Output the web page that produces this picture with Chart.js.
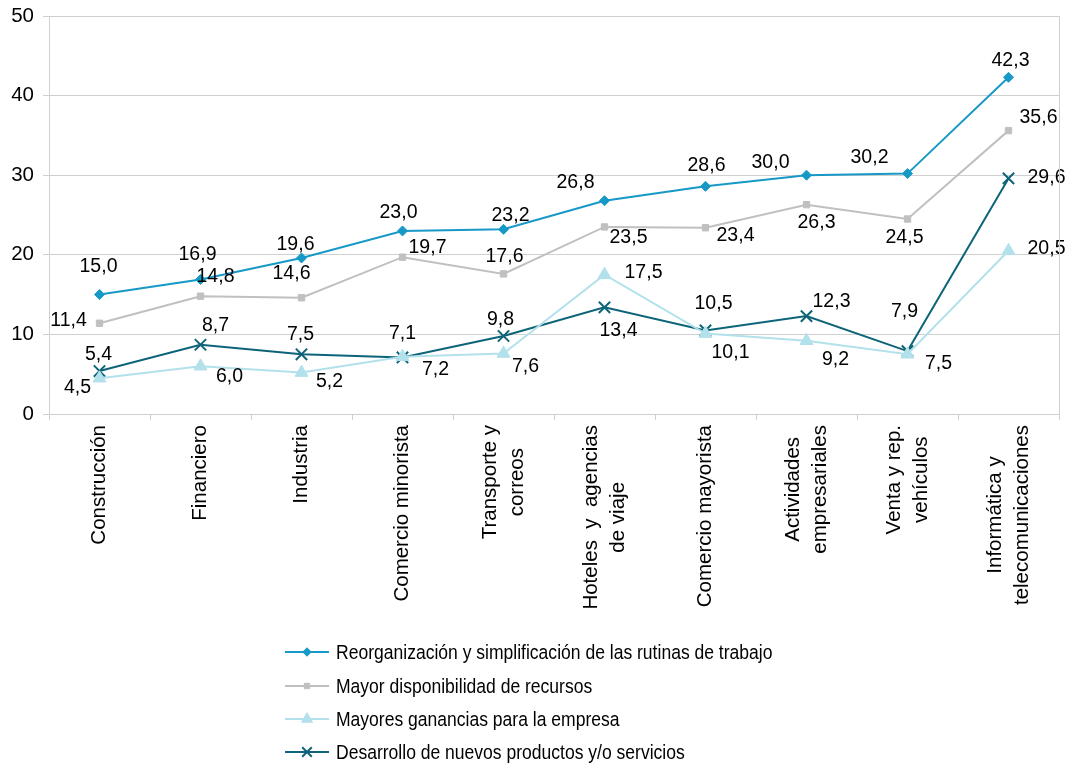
<!DOCTYPE html>
<html>
<head>
<meta charset="utf-8">
<script src="https://cdn.jsdelivr.net/npm/chart.js@4/dist/chart.umd.min.js"></script>
<style>
  html, body { margin: 0; padding: 0; background: #fff; }
  #wrap { width: 1072px; height: 764px; position: relative; }
</style>
</head>
<body>
<div id="wrap"><canvas id="myChart"></canvas></div>
<script>
// Sectores (eje X)
const categories = [
    ['Construcción'],
    ['Financiero'],
    ['Industria'],
    ['Comercio minorista'],
    ['Transporte y', 'correos'],
    ['Hoteles  y  agencias', 'de viaje'],
    ['Comercio mayorista'],
    ['Actividades', 'empresariales'],
    ['Venta y rep.', 'vehículos'],
    ['Informática y', 'telecomunicaciones']
];

const seriesNames = [
    'Reorganización y simplificación de las rutinas de trabajo',
    'Mayor disponibilidad de recursos',
    'Mayores ganancias para la empresa',
    'Desarrollo de nuevos productos y/o servicios'
];

const reorganizacion = [15.0, 16.9, 19.6, 23.0, 23.2, 26.8, 28.6, 30.0, 30.2, 42.3];
const recursos = [11.4, 14.8, 14.6, 19.7, 17.6, 23.5, 23.4, 26.3, 24.5, 35.6];
const ganancias = [4.5, 6.0, 5.2, 7.2, 7.6, 17.5, 10.1, 9.2, 7.5, 20.5];
const desarrollo = [5.4, 8.7, 7.5, 7.1, 9.8, 13.4, 10.5, 12.3, 7.9, 29.6];

const yTicks = [0, 10, 20, 30, 40, 50];

// décalage des étiquettes par rapport au point [dx, dy]
const labelOffsets = [
    [[-1,-28],[-3,-25],[-6,-13],[-4,-18],[7,-14],[-29,-18],[1,-21],[-36,-13],[-38,-16],[2,-17]],
    [[-31,-3],[15,-20],[-10,-24],[25,-10],[1,-17],[24,11],[30,8],[10,18],[-3,19],[30,-13]],
    [[-22,9],[29,10],[28,9],[33,13],[22,13],[39,-2],[25,19],[29,19],[31,9],[38,-2]],
    [[-1,-16],[15,-19],[-1,-20],[0,-24],[-3,-16],[14,23],[8,-27],[25,-14],[-3,-39],[38,-1]]
];

const FONT = '"Liberation Sans", Arial, sans-serif';

const styles = [
    { color: '#1699c6', pointStyle: 'rectRot', radius: 5, borderWidth: 1 },
    { color: '#c0c0c0', pointStyle: 'rect', radius: 4.5, borderWidth: 1 },
    { color: '#b3e1eb', pointStyle: 'triangle', radius: 7.5, borderWidth: 1 },
    { color: '#0d6478', pointStyle: 'crossRot', radius: 8, borderWidth: 2 }
];

const allValues = [reorganizacion, recursos, ganancias, desarrollo];

const data = {
    labels: categories.map(c => c.join(' ')),
    datasets: allValues.map((vals, i) => ({
        label: seriesNames[i],
        data: vals,
        borderColor: styles[i].color,
        backgroundColor: styles[i].color,
        borderWidth: 2,
        pointStyle: styles[i].pointStyle,
        pointRadius: styles[i].radius,
        pointBorderWidth: styles[i].borderWidth,
        pointBackgroundColor: styles[i].color,
        pointBorderColor: styles[i].color,
        tension: 0
    }))
};

// étiquettes de valeurs, axe X tourné, légende et cadre
const customDraw = {
    id: 'customDraw',
    afterDatasetsDraw(chart) {
        const ctx = chart.ctx;
        ctx.save();
        ctx.font = '19.5px ' + FONT;
        ctx.fillStyle = '#000';
        ctx.textAlign = 'center';
        ctx.textBaseline = 'middle';
        chart.data.datasets.forEach((ds, di) => {
            const meta = chart.getDatasetMeta(di);
            meta.data.forEach((pt, i) => {
                const off = labelOffsets[di][i];
                const txt = ds.data[i].toFixed(1).replace('.', ',');
                ctx.fillText(txt, pt.x + off[0], pt.y + off[1]);
            });
        });
        ctx.restore();
    },
    afterDraw(chart) {
        const ctx = chart.ctx;
        const area = chart.chartArea;
        const xScale = chart.scales.x;
        ctx.save();
        // cadre droit
        ctx.strokeStyle = '#d0d0d0';
        ctx.lineWidth = 1;
        ctx.beginPath();
        ctx.moveTo(Math.round(area.right) + 0.5, area.top);
        ctx.lineTo(Math.round(area.right) + 0.5, area.bottom);
        ctx.stroke();

        // étiquettes de catégories
        ctx.font = '20.5px ' + FONT;
        ctx.fillStyle = '#000';
        ctx.textAlign = 'center';
        ctx.textBaseline = 'middle';
        const lineH = 27;
        categories.forEach((lines, i) => {
            const x = xScale.getPixelForValue(i);
            const w = Math.max(...lines.map(l => ctx.measureText(l).width));
            const top = area.bottom + 11;
            ctx.save();
            ctx.translate(x, top + w / 2);
            ctx.rotate(-Math.PI / 2);
            lines.forEach((l, k) => {
                const dy = (k - (lines.length - 1) / 2) * lineH;
                ctx.fillText(l, 0, dy);
            });
            ctx.restore();
        });

        // légende verticale
        const rows = [652, 686, 719, 752];
        chart.data.datasets.forEach((ds, di) => {
            const y = rows[di];
            ctx.strokeStyle = ds.borderColor;
            ctx.lineWidth = 2;
            ctx.beginPath();
            ctx.moveTo(285, y);
            ctx.lineTo(329, y);
            ctx.stroke();
            ctx.fillStyle = ds.borderColor;
            ctx.strokeStyle = ds.borderColor;
            ctx.lineWidth = styles[di].borderWidth;
            Chart.helpers.drawPoint(ctx, {
                pointStyle: styles[di].pointStyle,
                radius: styles[di].radius * 0.85,
                rotation: 0,
                borderWidth: styles[di].borderWidth
            }, 307, y);
            // texte un peu condensé comme dans l'original
            ctx.save();
            ctx.translate(336, y);
            ctx.scale(0.855, 1);
            ctx.font = '20.5px ' + FONT;
            ctx.textAlign = 'left';
            ctx.fillStyle = '#000';
            ctx.fillText(ds.label, 0, 1);
            ctx.restore();
        });
        ctx.restore();
    }
};

const options = {
    responsive: true,
    maintainAspectRatio: false,
    animation: false,
    layout: { padding: { top: 16, right: 13, left: 0, bottom: 0 } },
    plugins: {
        legend: { display: false },
        tooltip: { enabled: false }
    },
    scales: {
        x: {
            offset: true,
            grid: {
                offset: true,
                drawOnChartArea: false,
                color: '#d0d0d0',
                tickLength: 6
            },
            border: { color: '#d0d0d0' },
            ticks: { display: false },
            afterFit(scale) { scale.height = 350; }
        },
        y: {
            min: 0,
            max: 50,
            afterBuildTicks(scale) { scale.ticks = yTicks.map(v => ({ value: v })); },
            grid: { color: '#d0d0d0', tickLength: 6 },
            border: { color: '#d0d0d0' },
            ticks: {
                padding: 9,
                color: '#000',
                font: { family: FONT, size: 20.5 }
            },
            afterFit(scale) {
                scale.width = 49;
                scale.paddingTop = 0;
                scale.paddingBottom = 0;
            }
        }
    }
};

const ctx = document.getElementById('myChart').getContext('2d');
const myChart = new Chart(ctx, {
    type: 'line',
    data: data,
    options: options,
    plugins: [customDraw]
});
</script>
</body>
</html>
